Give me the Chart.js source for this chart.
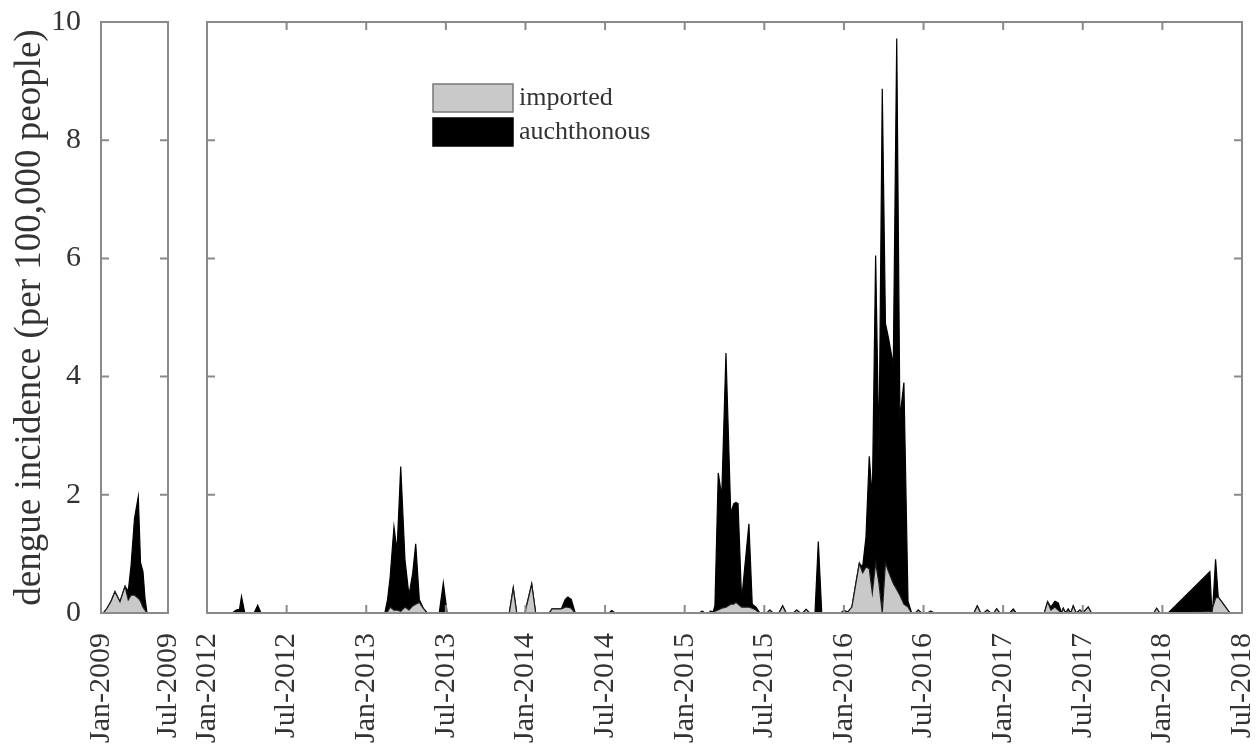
<!DOCTYPE html>
<html><head><meta charset="utf-8">
<script src="https://cdn.jsdelivr.net/npm/chart.js@4.4.0/dist/chart.umd.min.js"></script>
<style>
html,body{margin:0;padding:0;background:#fff;overflow:hidden}
#wrap{position:relative;width:1258px;height:744px}
#c1{position:absolute;left:0;top:0}
#c2{position:absolute;left:185px;top:0}
</style></head><body>
<div id="wrap">
<canvas id="c1" width="185" height="744"></canvas>
<canvas id="c2" width="1073" height="744"></canvas>
</div>
<script>
// ---------- DATA ----------
const seriesNames = ['imported', 'auchthonous'];
const yTicks = [0, 2, 4, 6, 8, 10];
const yTitle = 'dengue incidence (per 100,000 people)';

// Panel 1: months since Jan-2009
const ticks2009 = ['Jan-2009', 'Jul-2009'];
const months2009 = [0, 0.21, 0.54, 0.9, 1.25, 1.7, 2.15, 2.44, 2.69, 3.0, 3.34, 3.54, 3.76, 3.94, 4.12, 6];
const imported2009 = [0, 0, 0.08, 0.2, 0.36, 0.19, 0.45, 0.22, 0.3, 0.3, 0.25, 0.2, 0.1, 0.05, 0, 0];
const autoch2009 = [0, 0, 0, 0, 0, 0, 0, 0.15, 0.5, 1.3, 1.72, 0.65, 0.6, 0.2, 0, 0];

// Panel 2: months since Jan-2012
const ticks2012 = ['Jan-2012','Jul-2012','Jan-2013','Jul-2013','Jan-2014','Jul-2014','Jan-2015',
  'Jul-2015','Jan-2016','Jul-2016','Jan-2017','Jul-2017','Jan-2018','Jul-2018'];
const monthsMain = [
  0, 1.9, 2.2, 2.45, 2.6, 2.85, 3.55, 3.82, 4.07,
  13.4, 13.6, 13.8, 14.09, 14.32, 14.6, 14.92, 15.22, 15.5, 15.73, 16.0, 16.3, 16.6,
  17.5, 17.81, 18.1,
  22.78, 23.08, 23.34, 23.96, 24.47, 24.77,
  25.8, 26.0, 26.7, 27.0, 27.2, 27.45, 27.75,
  30.3, 30.5, 30.75,
  37.1, 37.32, 37.5, 37.8, 37.97, 38.15, 38.28, 38.53, 38.79, 39.11, 39.47, 39.7, 39.86, 40.02,
  40.29, 40.84, 41.09, 41.37, 41.67,
  42.2, 42.42, 42.65, 43.1, 43.38, 43.65, 44.2, 44.44, 44.7, 44.9, 45.15, 45.4,
  45.82, 46.07, 46.33,
  47.75, 48.0, 48.3, 48.6, 48.9, 49.16, 49.41, 49.66, 49.91, 50.14, 50.39, 50.64, 50.89,
  51.13, 51.36, 51.72, 51.98, 52.22, 52.52, 52.83, 53.1,
  53.4, 53.6, 53.85, 54.3, 54.54, 54.8,
  57.8, 58.05, 58.3, 58.55, 58.8, 59.05, 59.3, 59.51, 59.75, 60.5, 60.76, 61.0,
  63.1, 63.35, 63.6, 63.9, 64.15, 64.4, 64.53, 64.7, 64.9, 65.1, 65.28, 65.5, 65.79, 66.0,
  66.41, 66.65,
  71.35, 71.57, 71.8, 72.44, 75.58, 75.73, 75.8, 76.01, 76.21, 77.09, 78
];
const importedMain = [
  0, 0, 0, 0, 0, 0, 0, 0, 0,
  0, 0.02, 0.1, 0.05, 0.05, 0.03, 0.1, 0.05, 0.12, 0.15, 0.18, 0.08, 0,
  0, 0, 0,
  0, 0.42, 0, 0, 0.49, 0,
  0, 0.07, 0.07, 0.1, 0.1, 0.08, 0,
  0, 0, 0,
  0, 0.03, 0, 0, 0.03, 0, 0.03, 0.05, 0.08, 0.1, 0.15, 0.15, 0.18, 0.15,
  0.1, 0.1, 0.08, 0.05, 0,
  0, 0.05, 0, 0, 0.12, 0, 0, 0.05, 0, 0, 0.06, 0,
  0, 0, 0,
  0, 0.04, 0.02, 0.1, 0.5, 0.84, 0.68, 0.78, 0.75, 0.34, 0.85, 0.5, 0,
  0.85, 0.7, 0.5, 0.4, 0.3, 0.15, 0.1, 0,
  0, 0.05, 0, 0, 0.03, 0,
  0, 0.12, 0, 0, 0.05, 0, 0, 0.07, 0, 0, 0.05, 0,
  0, 0.19, 0.05, 0.1, 0.05, 0, 0.08, 0, 0.05, 0, 0.12, 0, 0.05, 0,
  0.1, 0,
  0, 0.08, 0, 0, 0.02, 0, 0.1, 0.25, 0.27, 0, 0
];
const autochMain = [
  0, 0, 0.05, 0.06, 0.28, 0, 0, 0.13, 0,
  0, 0.2, 0.5, 1.41, 1.0, 2.45, 0.8, 0.25, 0.55, 1.02, 0.05, 0, 0,
  0, 0.51, 0,
  0, 0, 0, 0, 0, 0,
  0, 0, 0, 0.13, 0.17, 0.15, 0,
  0, 0.04, 0,
  0, 0, 0, 0, 0, 0.02, 0.1, 2.32, 1.89, 4.3, 1.54, 1.7, 1.69, 1.7,
  0.12, 1.41, 0.07, 0.05, 0,
  0, 0, 0, 0, 0, 0, 0, 0, 0, 0, 0, 0,
  0, 1.21, 0,
  0, 0, 0, 0, 0, 0, 0.1, 0.5, 1.9, 1.6, 5.2, 2.2, 8.87,
  4.05, 3.95, 3.7, 9.32, 3.0, 3.75, 0.1, 0,
  0, 0, 0, 0, 0, 0,
  0, 0, 0, 0, 0, 0, 0, 0, 0, 0, 0.02, 0,
  0, 0, 0.05, 0.1, 0.12, 0, 0, 0, 0.02, 0, 0, 0, 0, 0,
  0, 0,
  0, 0, 0, 0, 0.68, 0.02, 0, 0.66, 0, 0, 0
];

// ---------- STYLE / HELPERS ----------
const FONT = 'Liberation Serif, Times New Roman, serif';
const TXT = '#333333';
const FRAME = '#8a8a8a';
const GREY = '#c9c9c9';

function pts(xs, ys){ return xs.map((x,i)=>({x:x, y:ys[i]})); }

const framePlugin = {
  id: 'frame',
  afterDatasetsDraw(chart){
    const {ctx, chartArea:a, scales} = chart;
    ctx.save();
    ctx.strokeStyle = FRAME; ctx.lineWidth = 2;
    ctx.strokeRect(a.left, a.top, a.right - a.left, a.bottom - a.top);
    const L = 8;
    ctx.beginPath();
    scales.x.ticks.forEach(t => {
      const p = scales.x.getPixelForValue(t.value);
      ctx.moveTo(p, a.bottom); ctx.lineTo(p, a.bottom - L);
      ctx.moveTo(p, a.top); ctx.lineTo(p, a.top + L);
    });
    scales.y.ticks.forEach(t => {
      const p = scales.y.getPixelForValue(t.value);
      ctx.moveTo(a.left, p); ctx.lineTo(a.left + L, p);
      ctx.moveTo(a.right, p); ctx.lineTo(a.right - L, p);
    });
    ctx.stroke();
    ctx.restore();
  }
};

const legendPlugin = {
  id: 'boxLegend',
  afterDraw(chart){
    const {ctx, chartArea:a} = chart;
    const ds = chart.data.datasets;
    const x0 = a.left + 226, y0 = a.top + 62, w = 80, h = 28, gap = 6;
    ctx.save();
    ctx.font = '26px ' + FONT;
    ctx.textBaseline = 'middle';
    ds.forEach((d, i) => {
      const y = y0 + i * (h + gap);
      ctx.fillStyle = d.backgroundColor;
      ctx.fillRect(x0, y, w, h);
      ctx.strokeStyle = i === 0 ? '#777' : '#000';
      ctx.lineWidth = 1.5;
      ctx.strokeRect(x0, y, w, h);
      ctx.fillStyle = TXT;
      ctx.fillText(d.label, x0 + w + 6, y + h/2);
    });
    ctx.restore();
  }
};

function datasets(xs, imp, aut){
  return [
    { label: seriesNames[0], data: pts(xs, imp), backgroundColor: GREY, borderColor: '#1a1a1a',
      borderWidth: 1.2, fill: 'origin', pointRadius: 0, tension: 0 },
    { label: seriesNames[1], data: pts(xs, aut), backgroundColor: '#000000', borderColor: '#000000',
      borderWidth: 1.2, fill: '-1', pointRadius: 0, tension: 0 }
  ];
}

function xScale(labels, max){
  return {
    type: 'linear', min: 0, max: max,
    ticks: { stepSize: 6, autoSkip: false, minRotation: 90, maxRotation: 90, padding: 12,
      color: TXT, font: { family: FONT, size: 30 },
      callback: v => labels[Math.round(v/6)] },
    grid: { display: false }, border: { display: false },
    afterFit(s){ s.height = 131; s.paddingLeft = 0; s.paddingRight = 0; }
  };
}

const common = {
  type: 'line',
  options: {
    responsive: false, animation: false, events: [],
    plugins: { legend: { display: false }, tooltip: { enabled: false } },
    elements: { line: { borderJoinStyle: 'miter' } }
  }
};

// Panel 1 (2009)
new Chart(document.getElementById('c1'), {
  type: 'line',
  data: { datasets: datasets(months2009, imported2009, autoch2009) },
  options: Object.assign({}, common.options, {
    layout: { padding: { top: 22, right: 17, left: 0, bottom: 0 } },
    scales: {
      x: xScale(ticks2009, 6),
      y: {
        min: 0, max: 10, stacked: true,
        afterBuildTicks(s){ s.ticks = yTicks.map(v => ({value: v})); },
        ticks: { color: TXT, padding: 12, font: { family: FONT, size: 30 } },
        grid: { display: false }, border: { display: false },
        title: { display: true, text: yTitle, color: TXT, font: { family: FONT, size: 37 },
                 padding: { top: 8, bottom: 0 } },
        afterFit(s){ s.width = 101; s.paddingTop = 0; s.paddingBottom = 0; }
      }
    }
  }),
  plugins: [framePlugin]
});

// Panel 2 (2012-2018)
new Chart(document.getElementById('c2'), {
  type: 'line',
  data: { datasets: datasets(monthsMain, importedMain, autochMain) },
  options: Object.assign({}, common.options, {
    layout: { padding: { top: 22, right: 16, left: 0, bottom: 0 } },
    scales: {
      x: xScale(ticks2012, 78),
      y: {
        min: 0, max: 10, stacked: true,
        afterBuildTicks(s){ s.ticks = yTicks.map(v => ({value: v})); },
        ticks: { display: false },
        grid: { display: false }, border: { display: false },
        afterFit(s){ s.width = 22; s.paddingTop = 0; s.paddingBottom = 0; }
      }
    }
  }),
  plugins: [framePlugin, legendPlugin]
});
</script>
</body></html>
